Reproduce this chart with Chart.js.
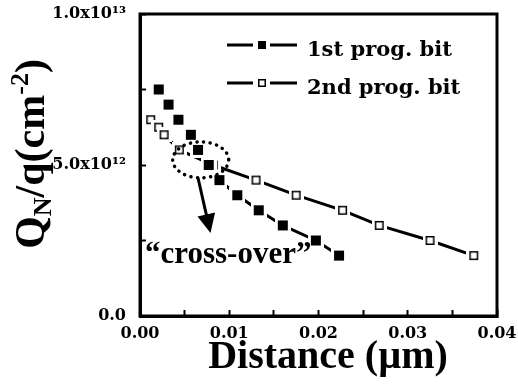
<!DOCTYPE html>
<html>
<head>
<meta charset="utf-8">
<script src="https://cdn.jsdelivr.net/npm/chart.js@4.4.0/dist/chart.umd.min.js"></script>
<style>
  body { margin: 0; background: #fff; }
  #chart { display: block; }
</style>
</head>
<body>
<canvas id="chart" width="518" height="388"></canvas>
<script>
// values: distance in um, Q_N/q in cm^-2
var dist1st = [0.0021, 0.0032, 0.0043, 0.0057, 0.0065, 0.0077, 0.0089, 0.0109, 0.0133, 0.0160, 0.0197, 0.0223];
var qn1st = [7.5e12, 7.0e12, 6.5e12, 6.0e12, 5.5e12, 5.0e12, 4.5e12, 4.0e12, 3.5e12, 3.0e12, 2.5e12, 2.0e12];
var dist2nd = [0.0012, 0.0021, 0.0027, 0.0044, 0.0082, 0.0130, 0.0175, 0.0227, 0.0268, 0.0325, 0.0374];
var qn2nd = [6.5e12, 6.25e12, 6.0e12, 5.5e12, 5.0e12, 4.5e12, 4.0e12, 3.5e12, 3.0e12, 2.5e12, 2.0e12];
var seriesNames = ['1st prog. bit', '2nd prog. bit'];
var xTickLabels = ['0.00', '0.01', '0.02', '0.03', '0.04'];
var yTickValues = [0, 5e12, 1e13];
var yTickLabels = ['0.0', '5.0x10¹²', '1.0x10¹³'];

// square marker with a white margin so the line stops short of it
function marker(filled, size, halo) {
    var c = document.createElement('canvas');
    var s = size + halo * 2;
    c.width = s; c.height = s;
    var g = c.getContext('2d');
    g.fillStyle = '#fff';
    g.fillRect(0, 0, s, s);
    if (filled) {
        g.fillStyle = '#000';
        g.fillRect(halo, halo, size, size);
    } else {
        g.strokeStyle = '#000';
        g.lineWidth = 1.5;
        g.strokeRect(halo + 0.75, halo + 0.75, size - 1.5, size - 1.5);
    }
    return c;
}

var tickFont = {family: 'DejaVu Serif', weight: 'bold', size: 16};

// keep the plot box where it is in the picture
function noPad(s) {
    s.paddingTop = 0; s.paddingBottom = 0; s.paddingLeft = 0; s.paddingRight = 0;
}

var extras = {
    id: 'extras',
    afterDraw: function (chart) {
        var ctx = chart.ctx, a = chart.chartArea;
        var xs = chart.scales.x, ys = chart.scales.y;
        ctx.save();
        ctx.fillStyle = '#000';
        ctx.strokeStyle = '#000';

        // frame
        ctx.lineWidth = 3;
        ctx.strokeRect(a.left, a.top, a.right - a.left, a.bottom - a.top);

        // y title  Q_N/q(cm^-2)
        var big = 'bold 42px "Liberation Serif"', small = 'bold 26px "Liberation Serif"';
        var parts = [
            {t: 'Q', f: big, dy: 0},
            {t: 'N', f: small, dy: 7},
            {t: '/q(cm', f: big, dy: 0},
            {t: '-2', f: small, dy: -16},
            {t: ')', f: big, dy: 0}
        ];
        var total = 0;
        parts.forEach(function (p) { ctx.font = p.f; total += ctx.measureText(p.t).width; });
        ctx.save();
        ctx.translate(44, 154);
        ctx.rotate(-Math.PI / 2);
        ctx.textBaseline = 'alphabetic';
        ctx.textAlign = 'left';
        var px = -total / 2;
        parts.forEach(function (p) {
            ctx.font = p.f;
            ctx.fillText(p.t, px, p.dy);
            px += ctx.measureText(p.t).width;
        });
        ctx.restore();

        // x title
        ctx.font = 'bold 40px "Liberation Serif"';
        ctx.textAlign = 'center';
        ctx.textBaseline = 'alphabetic';
        ctx.fillText('Distance (µm)', 328, 368);

        // legend
        var styles = [marker(true, 8, 0), marker(false, 8, 0)];
        ctx.font = 'bold 21px "DejaVu Serif"';
        ctx.textAlign = 'left';
        chart.data.datasets.forEach(function (ds, i) {
            var ly = 45 + i * 38;
            ctx.lineWidth = 3;
            ctx.beginPath();
            ctx.moveTo(227, ly); ctx.lineTo(253, ly);
            ctx.moveTo(270, ly); ctx.lineTo(297, ly);
            ctx.stroke();
            ctx.drawImage(styles[i], 258, ly - 4);
            ctx.fillText(ds.label, 307, ly + 11);
        });

        // cross-over annotation
        var cx = xs.getPixelForValue(0.0068), cy = ys.getPixelForValue(5.17e12);
        ctx.save();
        ctx.lineWidth = 3.5;
        ctx.lineCap = 'round';
        ctx.setLineDash([0.1, 6.5]);
        ctx.beginPath();
        ctx.ellipse(cx, cy, 28, 18, 0, 0, Math.PI * 2);
        ctx.stroke();
        ctx.restore();

        var x0 = xs.getPixelForValue(0.0065), y0 = ys.getPixelForValue(4.57e12);
        var x1 = xs.getPixelForValue(0.0079), y1 = ys.getPixelForValue(2.75e12);
        var ang = Math.atan2(y1 - y0, x1 - x0);
        ctx.lineWidth = 3;
        ctx.beginPath();
        ctx.moveTo(x0, y0);
        ctx.lineTo(x1 - 16 * Math.cos(ang), y1 - 16 * Math.sin(ang));
        ctx.stroke();
        ctx.beginPath();
        ctx.moveTo(x1, y1);
        ctx.lineTo(x1 - 19 * Math.cos(ang) + 9 * Math.sin(ang), y1 - 19 * Math.sin(ang) - 9 * Math.cos(ang));
        ctx.lineTo(x1 - 19 * Math.cos(ang) - 9 * Math.sin(ang), y1 - 19 * Math.sin(ang) + 9 * Math.cos(ang));
        ctx.closePath();
        ctx.fill();

        ctx.font = 'bold 31px "Liberation Serif"';
        ctx.textAlign = 'left';
        ctx.fillText('“cross-over”', 145, ys.getPixelForValue(1.75e12));
        ctx.restore();
    }
};

var ctx = document.getElementById('chart');
var myChart = new Chart(ctx, {
    type: 'line',
    data: {
        datasets: [{
                label: seriesNames[0],
                data: dist1st.map(function (x, i) { return {x: x, y: qn1st[i]}; }),
                borderColor: '#000',
                borderWidth: 3,
                pointStyle: marker(true, 10, 3),
                pointRadius: 5,
                fill: false
            }, {
                label: seriesNames[1],
                data: dist2nd.map(function (x, i) { return {x: x, y: qn2nd[i]}; }),
                borderColor: '#000',
                borderWidth: 3,
                pointStyle: marker(false, 9, 3),
                pointRadius: 5,
                fill: false
            }
        ]
    },
    options: {
        responsive: false,
        animation: false,
        devicePixelRatio: 1,
        layout: {padding: {top: 14, right: 21, left: 0, bottom: 0}},
        plugins: {legend: {display: false}, tooltip: {enabled: false}},
        scales: {
            x: {
                type: 'linear',
                min: 0,
                max: 0.04,
                afterFit: function (s) { s.height = 72; noPad(s); },
                border: {color: '#000', width: 3},
                grid: {drawOnChartArea: false, color: '#000', tickLength: -6, tickWidth: 2},
                ticks: {
                    stepSize: 0.005,
                    autoSkip: false,
                    maxRotation: 0,
                    color: '#000',
                    font: tickFont,
                    padding: 14,
                    callback: function (v) {
                        var k = Math.round(v / 0.01);
                        return Math.abs(v - k * 0.01) < 1e-9 ? xTickLabels[k] : '';
                    }
                }
            },
            y: {
                min: 0,
                max: 1e13,
                afterFit: function (s) { s.width = 140; noPad(s); },
                border: {color: '#000', width: 3},
                grid: {drawOnChartArea: false, color: '#000', tickLength: -6, tickWidth: 2},
                ticks: {
                    stepSize: 2.5e12,
                    autoSkip: false,
                    color: '#000',
                    font: tickFont,
                    padding: 20,
                    callback: function (v) {
                        for (var i = 0; i < yTickValues.length; i++) {
                            if (Math.abs(v - yTickValues[i]) < 1) return yTickLabels[i];
                        }
                        return '';
                    }
                }
            }
        }
    },
    plugins: [extras]
});
</script>
</body>
</html>
